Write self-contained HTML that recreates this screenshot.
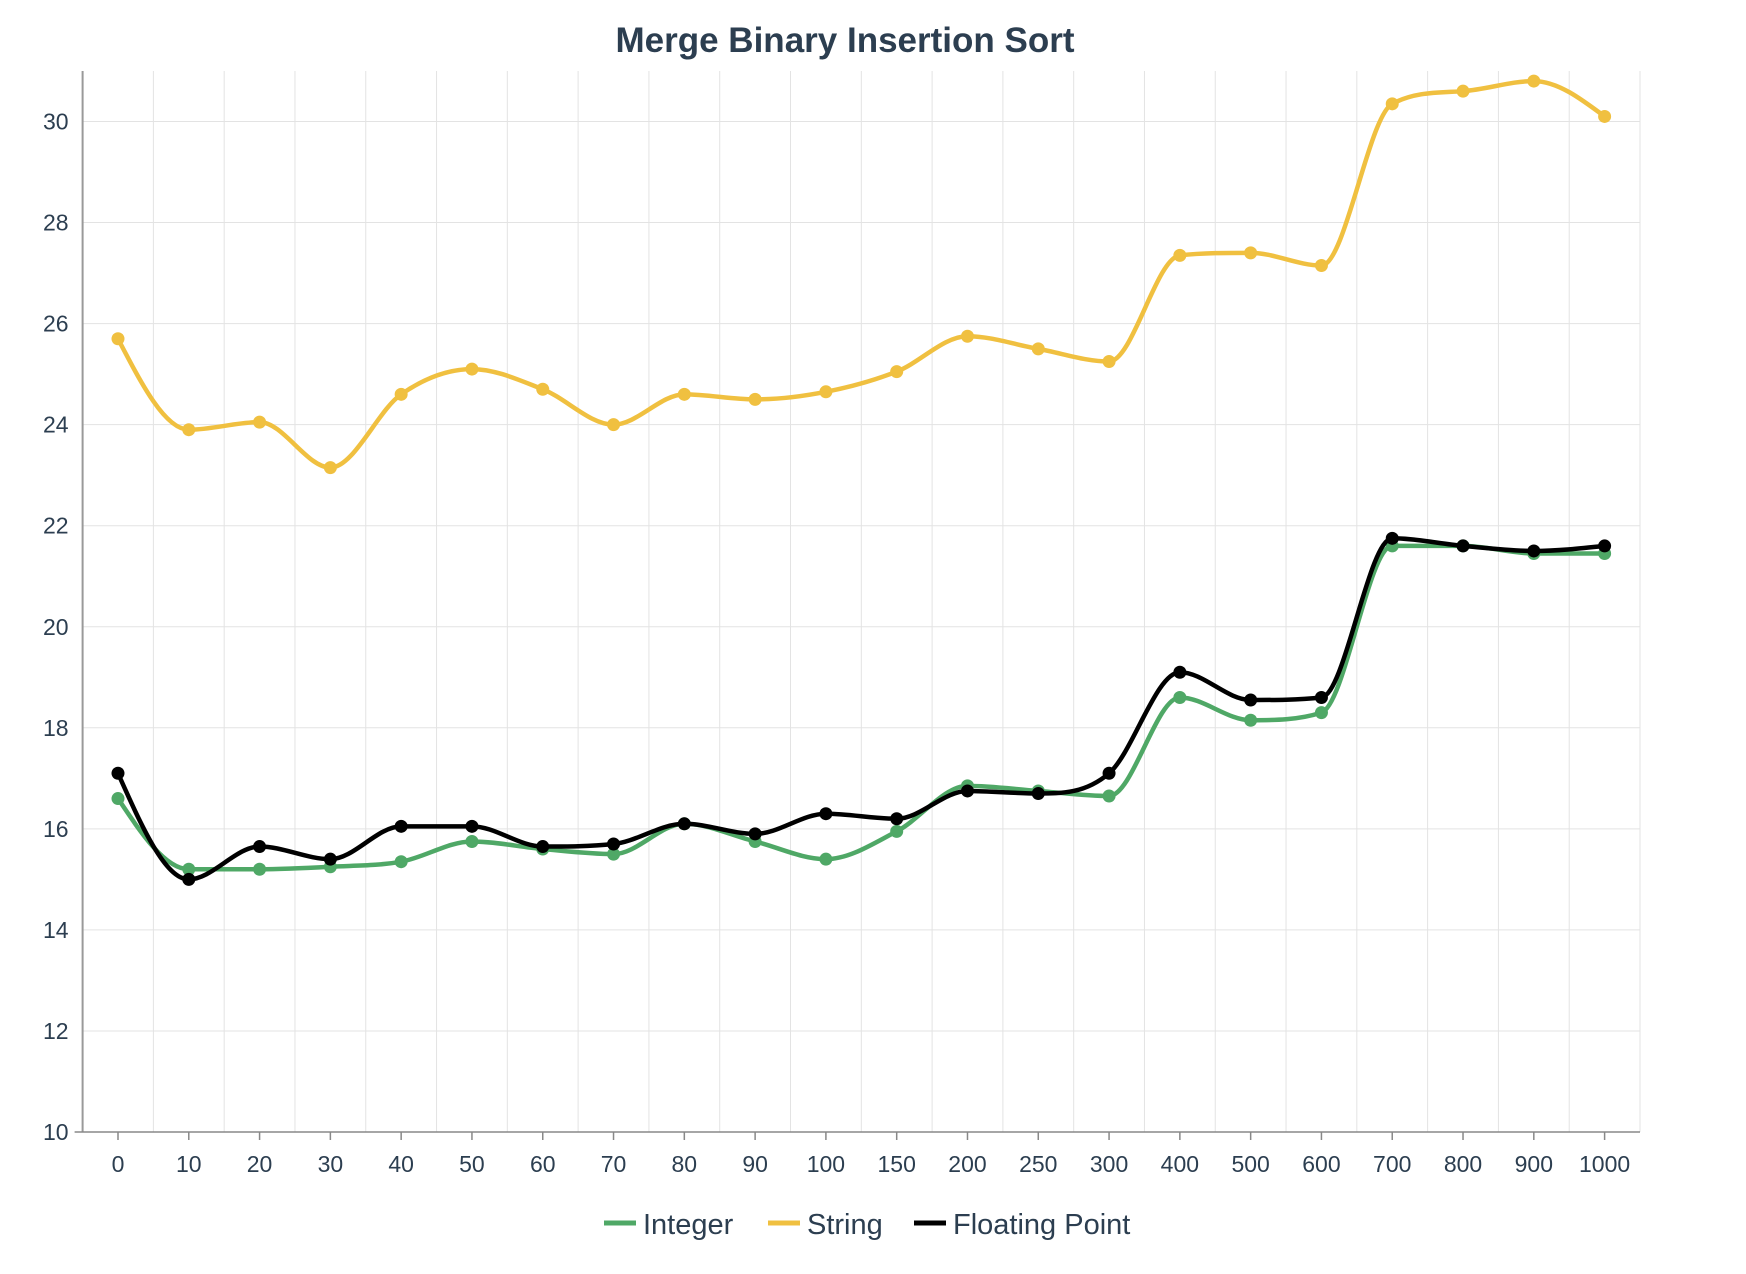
<!DOCTYPE html>
<html><head><meta charset="utf-8"><style>
html,body{margin:0;padding:0;background:#fff;}
svg{display:block;font-family:"Liberation Sans",sans-serif;}
</style></head><body>
<svg id="chart" width="1746" height="1274">
<text x="845" y="52" text-anchor="middle" font-size="35" font-weight="bold" fill="#2c3e50">Merge Binary Insertion Sort</text>
<g id="grid"></g><g id="axes"></g><g id="series"></g>
<g>
<g><line x1="604" y1="1223" x2="636" y2="1223" stroke="#4fa866" stroke-width="5"/><text x="643" y="1234" font-size="29" fill="#2c3e50">Integer</text></g>
<g><line x1="768" y1="1223" x2="800" y2="1223" stroke="#f0c040" stroke-width="5"/><text x="807" y="1234" font-size="29" fill="#2c3e50">String</text></g>
<g><line x1="914" y1="1223" x2="946" y2="1223" stroke="#000" stroke-width="5"/><text x="953" y="1234" font-size="29" fill="#2c3e50">Floating Point</text></g>
</g>
</svg>
<script>
const categories=["0","10","20","30","40","50","60","70","80","90","100","150","200","250","300","400","500","600","700","800","900","1000"];
const yTicks=[10,12,14,16,18,20,22,24,26,28,30];
const integerVals=[16.6,15.2,15.2,15.25,15.35,15.75,15.6,15.5,16.1,15.75,15.4,15.95,16.85,16.75,16.65,18.6,18.15,18.3,21.6,21.6,21.45,21.45];
const stringVals=[25.7,23.9,24.05,23.15,24.6,25.1,24.7,24.0,24.6,24.5,24.65,25.05,25.75,25.5,25.25,27.35,27.4,27.15,30.35,30.6,30.8,30.1];
const floatVals=[17.1,15.0,15.65,15.4,16.05,16.05,15.65,15.7,16.1,15.9,16.3,16.2,16.75,16.7,17.1,19.1,18.55,18.6,21.75,21.6,21.5,21.6];

const NS="http://www.w3.org/2000/svg";
const L=82.6,R=1640,T=71,B=1132;
const Y30=121.5;
const band=(R-L)/categories.length;
const xS=i=>L+band*(i+0.5);
const yS=v=>B-(v-10)*(B-Y30)/20;
function mk(tag,parent,attrs){const e=document.createElementNS(NS,tag);for(const k in attrs)e.setAttribute(k,attrs[k]);parent.appendChild(e);return e;}
const grid=document.getElementById('grid'),axes=document.getElementById('axes'),series=document.getElementById('series');
for(let i=1;i<=categories.length;i++){
  const g=mk('line',grid,{x1:L+band*i,x2:L+band*i,y1:T,y2:B,stroke:'#e3e3e3','stroke-width':1});
  
  
}
yTicks.forEach(v=>{
  if(v>10){const g=mk('line',grid,{x1:L,x2:R,y1:yS(v),y2:yS(v),stroke:'#e3e3e3','stroke-width':1});
  
  }
  const t=mk('text',axes,{x:L-14,y:yS(v)+8,'text-anchor':'end','font-size':23,fill:'#2c3e50'});
  t.textContent=v;
  
  
});
mk('line',axes,{x1:L,x2:L,y1:T,y2:B,stroke:'#999','stroke-width':2});
mk('line',axes,{x1:L-8,x2:R,y1:B,y2:B,stroke:'#888','stroke-width':1.5});
categories.forEach((c,i)=>{
  mk('line',axes,{x1:xS(i),x2:xS(i),y1:B,y2:B+8,stroke:'#888','stroke-width':1.5});
  const t=mk('text',axes,{x:xS(i),y:B+40,'text-anchor':'middle','font-size':23,fill:'#2c3e50'});
  t.textContent=c;
  
  
});
function monotone(pts){
  const n=pts.length,d=[],m=[];
  for(let i=0;i<n-1;i++)d.push((pts[i+1][1]-pts[i][1])/(pts[i+1][0]-pts[i][0]));
  for(let i=1;i<n-1;i++)m[i]=(d[i-1]*d[i]<=0)?0:(d[i-1]+d[i])/2;
  m[0]=(3*d[0]-m[1])/2; m[n-1]=(3*d[n-2]-m[n-2])/2;
  if(m[0]*d[0]<=0)m[0]=0; if(m[n-1]*d[n-2]<=0)m[n-1]=0;
  for(let i=0;i<n-1;i++){if(d[i]===0){m[i]=0;m[i+1]=0;continue;}const a=m[i]/d[i],b=m[i+1]/d[i],s=a*a+b*b;if(s>9){const t=3/Math.sqrt(s);m[i]=t*a*d[i];m[i+1]=t*b*d[i];}}
  let p=`M${pts[0][0]},${pts[0][1]}`;
  for(let i=0;i<n-1;i++){const h=(pts[i+1][0]-pts[i][0])/3;p+=` C${pts[i][0]+h},${pts[i][1]+m[i]*h} ${pts[i+1][0]-h},${pts[i+1][1]-m[i+1]*h} ${pts[i+1][0]},${pts[i+1][1]}`;}
  return p;
}
function draw(vals,color,name){
  const pts=vals.map((v,i)=>[xS(i),yS(v)]);
  const path=mk('path',series,{d:monotone(pts),fill:'none',stroke:color,'stroke-width':4.5});
  
  
  pts.forEach(p=>{const c=mk('circle',series,{cx:p[0],cy:p[1],r:6.5,fill:color});
    
    });
}
draw(stringVals,'#f0c040','string');
draw(integerVals,'#4fa866','integer');
draw(floatVals,'#000000','floating-point');
</script>
</body></html>
